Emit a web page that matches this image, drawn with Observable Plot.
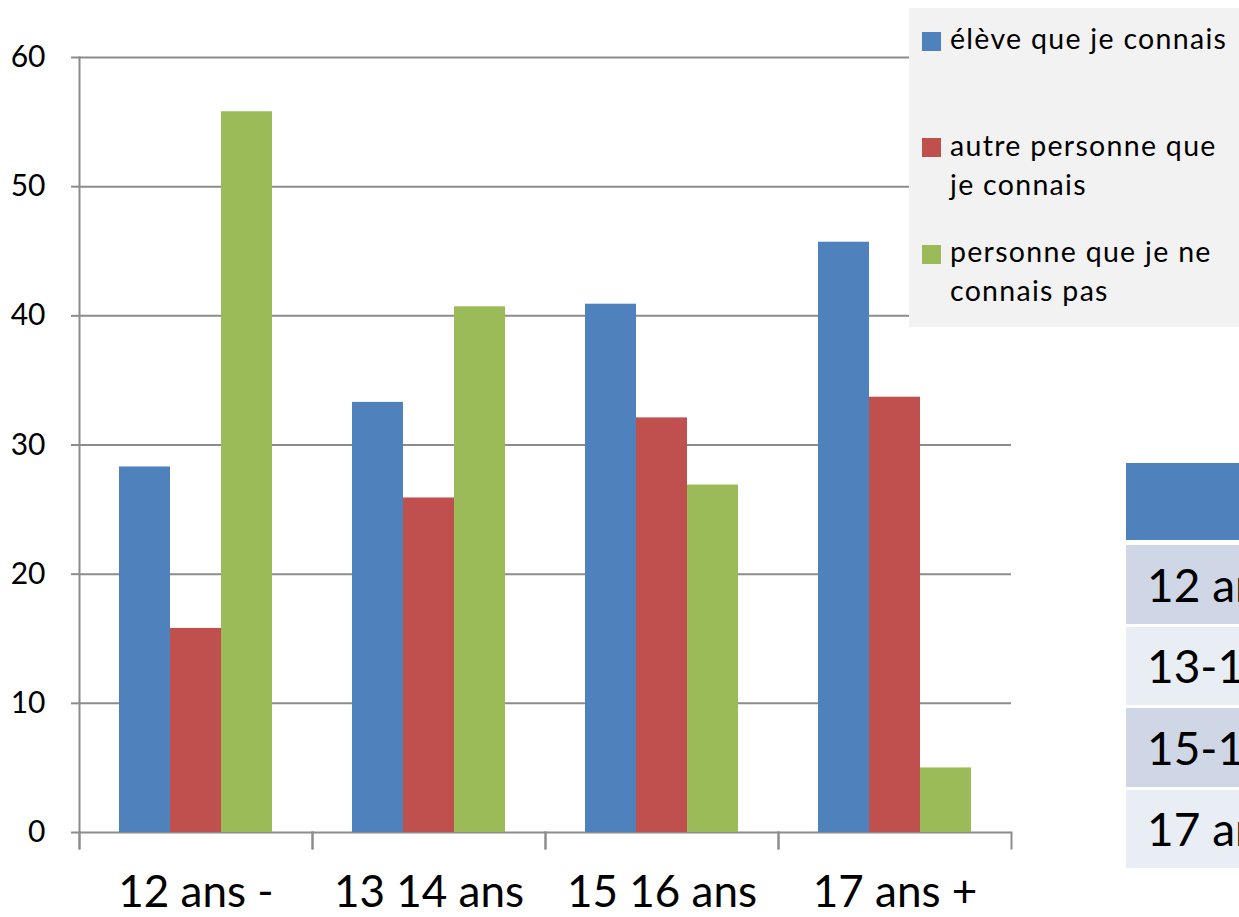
<!DOCTYPE html>
<html>
<head>
<meta charset="utf-8">
<script src="https://cdn.jsdelivr.net/npm/d3@7"></script>
<script src="https://cdn.jsdelivr.net/npm/@observablehq/plot@0.6"></script>
<style>
  body { margin: 0; background: #fff; font-family: Lato, "Open Sans", sans-serif; }
  #wrap { position: relative; width: 1239px; height: 917px; overflow: hidden; }
  #chart svg { display: block; }
  #legend { position: absolute; left: 909px; top: 8px; width: 340px; height: 319px; background: #f2f2f2; }
  .sw { position: absolute; left: 13px; width: 19px; height: 19px; }
  .lt { position: absolute; left: 41px; font-size: 28.5px; line-height: 39px; letter-spacing: 1.3px; white-space: nowrap; color: #000; }
  #table { position: absolute; left: 1126px; top: 463px; width: 300px; }
  .th { position: absolute; left: 0; top: 0; width: 300px; height: 77px; background: #4f81bd; }
  .tr { position: absolute; left: 0; width: 300px; font-size: 46px; color: #000; white-space: nowrap; box-sizing: border-box; padding-left: 21px; }
</style>
</head>
<body>
<div id="wrap">
  <div id="chart"></div>
  <div id="legend"></div>
  <div id="table"></div>
</div>
<script>
// ---- data ----
const ageGroups = ["12 ans -", "13 14 ans", "15 16 ans", "17 ans +"];
const seriesNames = ["élève que je connais", "autre personne que je connais", "personne que je ne connais pas"];
const eleveValues = [28.3, 33.3, 40.9, 45.7];
const autreValues = [15.8, 25.9, 32.1, 33.7];
const inconnuValues = [55.8, 40.7, 26.9, 5.0];
const yTicks = [0, 10, 20, 30, 40, 50, 60];
const legendLines = [["élève que je connais"], ["autre personne que", "je connais"], ["personne que je ne", "connais pas"]];
const tableRows = ["12 ans -", "13-14 ans", "15-16 ans", "17 ans +"];
const seriesColors = ["#4f81bd", "#c0504d", "#9bbb59"];

const seriesValues = [eleveValues, autreValues, inconnuValues];
const data = [];
ageGroups.forEach((g, i) => seriesNames.forEach((s, j) => data.push({age: g, serie: s, value: seriesValues[j][i]})));

const gridColor = "#8c8c8c";
const font = "Lato, 'Open Sans', sans-serif";

const chart = Plot.plot({
  width: 1239,
  height: 917,
  marginLeft: 78,
  marginRight: 227,
  marginTop: 57,
  marginBottom: 85,
  style: {fontFamily: font, background: "transparent", color: "#000"},
  fx: {domain: ageGroups, padding: 0, label: null, axis: null},
  x: {domain: seriesNames, paddingInner: 0, paddingOuter: 0.76, axis: null},
  y: {domain: [0, 60], axis: null},
  color: {domain: seriesNames, range: seriesColors},
  marks: [
    Plot.ruleY(yTicks, {stroke: gridColor, strokeWidth: 2}),
    Plot.barY(data, {fx: "age", x: "serie", y: "value", fill: "serie"}),
    Plot.axisY({ticks: yTicks, tickSize: 8, tickPadding: 26, fontSize: 30, stroke: gridColor, strokeWidth: 2, fill: "#000", label: null}),
    Plot.axisFx({anchor: "bottom", tickSize: 0, tickPadding: 43, fontSize: 44, fill: "#000", label: null}),
    Plot.frame({anchor: "left", facetAnchor: "left", stroke: gridColor, strokeWidth: 2, insetBottom: -16}),
    Plot.frame({anchor: "left", stroke: gridColor, strokeWidth: 2, insetTop: 775, insetBottom: -16}),
    Plot.frame({anchor: "right", stroke: gridColor, strokeWidth: 2, insetTop: 775, insetBottom: -16})
  ]
});
document.getElementById("chart").appendChild(chart);

// ---- legend ----
const legend = document.getElementById("legend");
const swatchTops = [24, 130, 237];
const textTops = [11, 118, 224];
seriesNames.forEach((s, i) => {
  const sw = document.createElement("div");
  sw.className = "sw";
  sw.style.top = swatchTops[i] + "px";
  sw.style.background = seriesColors[i];
  legend.appendChild(sw);
  const t = document.createElement("div");
  t.className = "lt";
  t.style.top = textTops[i] + "px";
  t.innerHTML = legendLines[i].join("<br>");
  legend.appendChild(t);
});

// ---- table ----
const table = document.getElementById("table");
const th = document.createElement("div");
th.className = "th";
table.appendChild(th);
const rowTops = [82, 164, 245, 327];
const rowHeights = [79, 78, 79, 78];
const rowColors = ["#cfd7e7", "#e9edf4", "#cfd7e7", "#e9edf4"];
tableRows.forEach((r, i) => {
  const d = document.createElement("div");
  d.className = "tr";
  d.style.top = rowTops[i] + "px";
  d.style.height = rowHeights[i] + "px";
  d.style.lineHeight = rowHeights[i] + "px";
  d.style.background = rowColors[i];
  d.textContent = r;
  table.appendChild(d);
});
</script>
</body>
</html>
